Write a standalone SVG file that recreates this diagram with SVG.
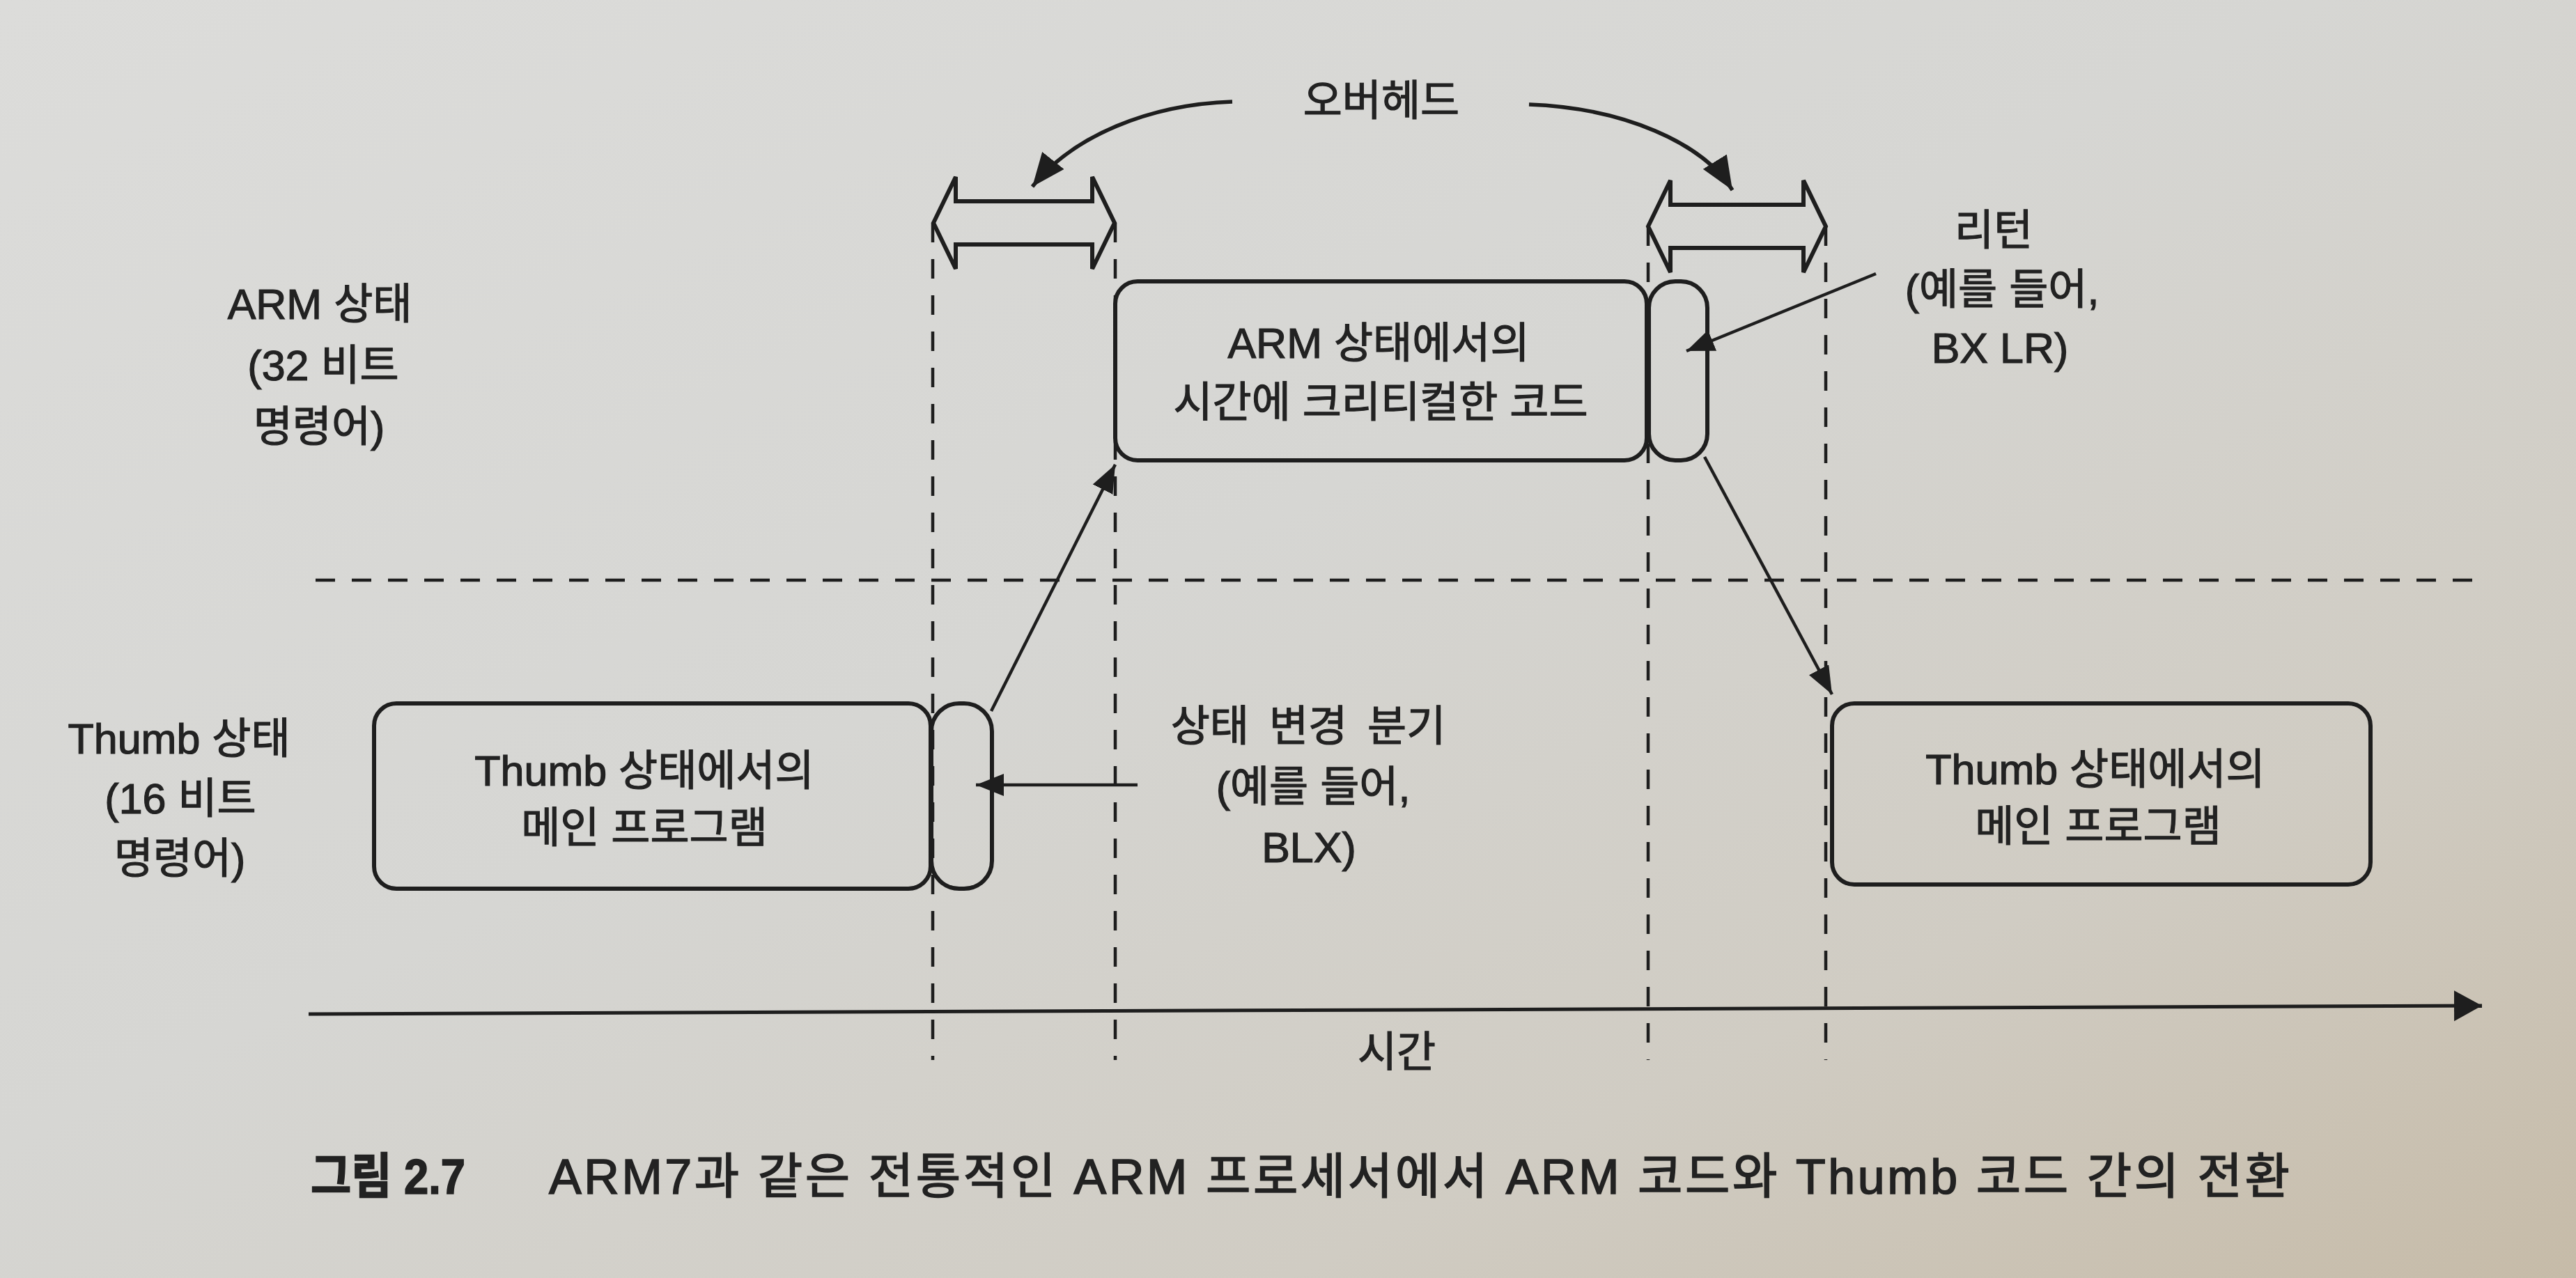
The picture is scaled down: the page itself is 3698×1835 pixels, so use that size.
<svg xmlns="http://www.w3.org/2000/svg" width="3698" height="1835" viewBox="0 0 3698 1835">
<defs>
<linearGradient id="bg" x1="0" y1="0" x2="1" y2="1">
<stop offset="0" stop-color="#dcdcda"/>
<stop offset="0.45" stop-color="#d6d6d3"/>
<stop offset="0.75" stop-color="#d0ccc3"/>
<stop offset="1" stop-color="#c6bba8"/>
</linearGradient>
<marker id="ah" markerUnits="userSpaceOnUse" markerWidth="44" markerHeight="34" refX="40" refY="16" orient="auto">
<path d="M0,0 L40,16 L0,32 z" fill="#1e1e1e"/>
</marker>
<marker id="ahCurve" markerUnits="userSpaceOnUse" markerWidth="52" markerHeight="42" refX="48" refY="20" orient="auto">
<path d="M0,0 L48,20 L0,40 z" fill="#1e1e1e"/>
</marker>
<marker id="ahBig" markerUnits="userSpaceOnUse" markerWidth="44" markerHeight="48" refX="40" refY="22" orient="auto">
<path d="M0,0 L40,22 L0,44 z" fill="#1e1e1e"/>
</marker>
<style>
text{font-family:'Liberation Sans','Noto Sans CJK KR',sans-serif;font-size:61px;fill:#222;stroke:#222;stroke-width:1.2px;text-anchor:middle}
.box{fill:none;stroke:#1e1e1e;stroke-width:6}
.dash{fill:none;stroke:#1e1e1e;stroke-width:4.5;stroke-dasharray:28 24}
.conn{fill:none;stroke:#1e1e1e;stroke-width:4.5;marker-end:url(#ah)}
.curve{fill:none;stroke:#1e1e1e;stroke-width:5.5;marker-end:url(#ahCurve)}
.dbl{fill:none;stroke:#1e1e1e;stroke-width:6;stroke-linejoin:miter}
.cap{text-anchor:start;font-size:70px;stroke-width:1.6px}
</style>
</defs>
<rect x="0" y="0" width="3698" height="1835" fill="url(#bg)"/>

<g id="guides">
<line class="dash" x1="1339" y1="320" x2="1339" y2="1522"/>
<line class="dash" x1="1601" y1="320" x2="1601" y2="1522"/>
<line class="dash" x1="2366" y1="325" x2="2366" y2="1522"/>
<line class="dash" x1="2621" y1="325" x2="2621" y2="1522"/>
<line class="dash" x1="453" y1="833" x2="3562" y2="833"/>
</g>

<g id="overhead-left">
<polygon class="dbl" points="1340,320 1372,254 1372,289 1568,289 1568,254 1600,320 1568,386 1568,351 1372,351 1372,386"/>
</g>
<g id="overhead-right">
<polygon class="dbl" points="2366,325 2398,259 2398,294 2589,294 2589,259 2621,325 2589,391 2589,356 2398,356 2398,391"/>
</g>
<g id="overhead-label">
<text x="1983" y="166">오버헤드</text>
</g>

<g id="arm-state-label">
<text x="459" y="458">ARM 상태</text>
<text x="464" y="546">(32 비트</text>
<text x="458" y="634">명령어)</text>
</g>
<g id="thumb-state-label">
<text x="257" y="1082">Thumb 상태</text>
<text x="259" y="1168">(16 비트</text>
<text x="258" y="1254">명령어)</text>
</g>

<g id="arm-code">
<rect class="box" x="1601" y="404" width="763" height="257" rx="32"/>
<text x="1979" y="514">ARM 상태에서의</text>
<text x="1982" y="599">시간에 크리티컬한 코드</text>
</g>
<g id="return-block">
<rect class="box" x="2367" y="404" width="84" height="257" rx="38"/>
</g>
<g id="return-label">
<text x="2862" y="352">리턴</text>
<text x="2874" y="437">(예를 들어,</text>
<text x="2871" y="521">BX LR)</text>
</g>

<g id="thumb-main-left">
<rect class="box" x="537" y="1010" width="799" height="266" rx="32"/>
<text x="925" y="1128">Thumb 상태에서의</text>
<text x="925" y="1210">메인 프로그램</text>
</g>
<g id="branch-block">
<rect class="box" x="1337" y="1010" width="87" height="266" rx="40"/>
</g>
<g id="branch-label">
<text x="1878" y="1064" style="word-spacing:12px">상태 변경 분기</text>
<text x="1885" y="1151">(예를 들어,</text>
<text x="1879" y="1238">BLX)</text>
</g>

<g id="thumb-main-right">
<rect class="box" x="2630" y="1010" width="773" height="260" rx="32"/>
<text x="3008" y="1126">Thumb 상태에서의</text>
<text x="3012" y="1208">메인 프로그램</text>
</g>

<g id="time-label">
<text x="2005" y="1532">시간</text>
</g>

<g id="connectors">
<path class="curve" d="M1769,146 C1650,150 1540,195 1482,268"/>
<path class="curve" d="M2195,150 C2330,155 2445,205 2487,273"/>
<line class="conn" x1="1423" y1="1021" x2="1601" y2="667"/>
<line class="conn" x1="1633" y1="1127" x2="1401" y2="1127"/>
<line class="conn" x1="2693" y1="393" x2="2421" y2="504"/>
<line class="conn" x1="2447" y1="656" x2="2630" y2="997"/>
<line fill="none" stroke="#1e1e1e" stroke-width="5" marker-end="url(#ahBig)" x1="443" y1="1456" x2="3563" y2="1444"/>
</g>

<g id="caption">
<text class="cap" x="446" y="1714" textLength="222" lengthAdjust="spacingAndGlyphs" style="font-weight:bold">그림 2.7</text>
<text class="cap" x="788" y="1714" textLength="2499" lengthAdjust="spacing">ARM7과 같은 전통적인 ARM 프로세서에서 ARM 코드와 Thumb 코드 간의 전환</text>
</g>
</svg>
